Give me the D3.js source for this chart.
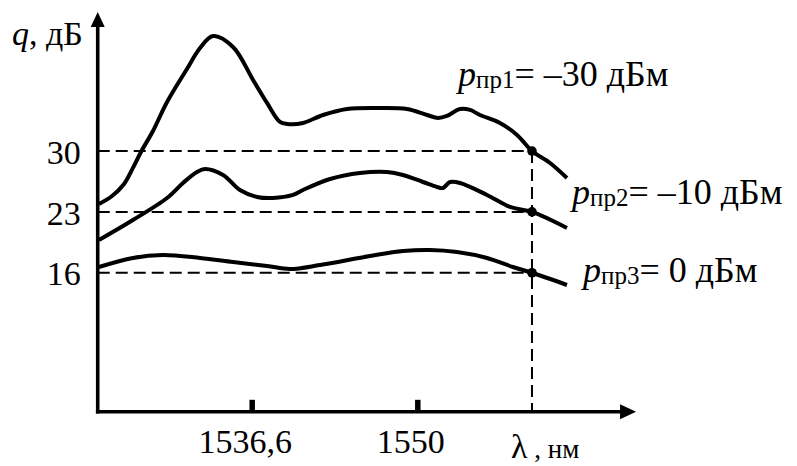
<!DOCTYPE html>
<html>
<head>
<meta charset="utf-8">
<script src="https://cdn.jsdelivr.net/npm/d3@7"></script>
<style>
  html, body { margin: 0; padding: 0; background: #fff; }
  svg { display: block; }
  text { font-family: "Liberation Serif", "Times New Roman", serif; fill: #000; }
</style>
</head>
<body>
<svg id="chart" width="797" height="466"></svg>
<script>
// ---- data (λ in nm, q in dB) ----
const xTickValues = [1536.6, 1550];
const xTickLabels = ["1536,6", "1550"];
const yTickValues = [16, 23, 30];
const yTickLabels = ["16", "23", "30"];

const lambda1 = [1524.24,1525.30,1526.27,1526.99,1527.64,1528.61,1529.75,1531.36,1532.42,1533.47,1535.09,1536.71,1537.84,1538.89,1539.46,1540.75,1542.37,1544.31,1546.98,1549.17,1550.79,1551.68,1552.40,1553.46,1554.27,1555.07,1556.69,1558.07,1559.28,1560.74,1562.11];
const q1      = [23.91,24.83,26.21,28.06,29.90,32.31,35.65,39.45,41.86,43.24,41.98,38.18,35.54,33.35,33.12,33.23,34.15,34.84,34.96,34.84,34.15,33.81,34.04,34.84,34.73,34.15,33.23,31.85,30.00,28.63,26.90];

const lambda2 = [1524.24,1526.99,1529.75,1531.04,1532.17,1532.82,1534.28,1535.65,1537.03,1538.32,1539.94,1540.75,1542.94,1545.36,1547.55,1548.84,1550.46,1551.59,1552.08,1552.65,1553.46,1555.64,1557.50,1559.28,1562.11];
const q2      = [19.77,22.07,24.60,26.33,27.59,27.94,27.25,25.52,24.72,24.60,24.95,25.52,26.79,27.48,27.59,27.25,26.44,25.87,25.75,26.44,26.33,24.95,23.57,23.00,21.15];

const lambda3 = [1524.24,1526.99,1529.42,1532.42,1535.09,1537.84,1539.70,1542.13,1546.17,1548.84,1551.03,1553.21,1555.64,1557.74,1559.28,1562.11];
const q3      = [16.66,17.70,18.04,17.70,17.24,16.78,16.43,16.89,17.93,18.50,18.62,18.39,17.70,16.66,16.00,14.59];

const markerLambda = 1559.28;
const markerQ = [30, 23, 16];

const seriesNames = ["1", "2", "3"];
const seriesValues = ["= –30 дБм", "= –10 дБм", "= 0 дБм"];

// ---- scales ----
const svg = d3.select("#chart");
const x = d3.scaleLinear().domain([1536.6, 1550]).range([251.7, 417.3]);
const xMin = 1524.14, xMax = 1567.7;
const y = d3.scaleLinear().domain([0, 46]).range([411.8, 12]);
const yMax = 46;

const F = 34;

// ---- reference dashed lines ----
const dash = "12,6";
svg.append("g").selectAll("line.h").data(markerQ).join("line")
  .attr("x1", x(xMin)).attr("x2", x(markerLambda))
  .attr("y1", d => y(d)).attr("y2", d => y(d))
  .attr("stroke", "#000").attr("stroke-width", 2).attr("stroke-dasharray", dash);
svg.append("line")
  .attr("x1", x(markerLambda)).attr("x2", x(markerLambda))
  .attr("y1", y(d3.max(markerQ))).attr("y2", y(0))
  .attr("stroke", "#000").attr("stroke-width", 2).attr("stroke-dasharray", dash);

// ---- curves ----
const line = d3.line().x(d => x(d[0])).y(d => y(d[1])).curve(d3.curveCatmullRom.alpha(0.5));
const curves = [d3.zip(lambda1, q1), d3.zip(lambda2, q2), d3.zip(lambda3, q3)];
svg.append("g").selectAll("path").data(curves).join("path")
  .attr("d", line).attr("fill", "none").attr("stroke", "#000")
  .attr("stroke-width", 4).attr("stroke-linejoin", "round");

// markers
svg.append("g").selectAll("circle").data(markerQ).join("circle")
  .attr("cx", x(markerLambda)).attr("cy", d => y(d)).attr("r", 4.8).attr("fill", "#000");

// ---- axes ----
const x0 = x(xMin), y0 = y(0);
const xEnd = x(xMax), yTop = y(yMax);
// y axis line + arrow
svg.append("line").attr("x1", x0).attr("x2", x0).attr("y1", y0 + 1.8).attr("y2", yTop + 14)
  .attr("stroke", "#000").attr("stroke-width", 3.6);
svg.append("path").attr("d", `M${x0},${yTop} L${x0 - 7},${yTop + 15} L${x0 + 7},${yTop + 15} Z`).attr("fill", "#000");
// x axis line + arrow
svg.append("line").attr("x1", x0 - 1.8).attr("x2", xEnd - 14).attr("y1", y0).attr("y2", y0)
  .attr("stroke", "#000").attr("stroke-width", 3.6);
svg.append("path").attr("d", `M${xEnd},${y0} L${xEnd - 16},${y0 - 7.5} L${xEnd - 16},${y0 + 7.5} Z`).attr("fill", "#000");

// x ticks and labels
const xAxis = d3.axisBottom(x).tickValues(xTickValues)
  .tickFormat((d, i) => xTickLabels[i]).tickSizeInner(-12).tickSizeOuter(0).tickPadding(17);
const gx = svg.append("g").attr("transform", `translate(0,${y0})`).call(xAxis);
gx.select(".domain").remove();
gx.selectAll(".tick line").attr("stroke", "#000").attr("stroke-width", 5.5);
gx.selectAll(".tick text").attr("font-family", "Liberation Serif").attr("font-size", F).attr("fill", "#000").attr("dx", -7);

// y tick labels
const yAxis = d3.axisLeft(y).tickValues(yTickValues)
  .tickFormat((d, i) => yTickLabels[i]).tickSize(0).tickPadding(17);
const gy = svg.append("g").attr("transform", `translate(${x0},0)`).call(yAxis);
gy.select(".domain").remove();
gy.selectAll(".tick text").attr("font-family", "Liberation Serif").attr("font-size", F).attr("fill", "#000").attr("dy", "0.36em");

// axis titles
const qt = svg.append("text").attr("x", 12).attr("y", 45).attr("font-size", F);
qt.append("tspan").attr("font-style", "italic").text("q");
qt.append("tspan").text(", дБ");

const lt = svg.append("text").attr("x", 511).attr("y", 458);
lt.append("tspan").attr("font-size", F).text("λ");
lt.append("tspan").attr("font-size", 27).text(" , нм");

// series labels
const labelPos = [[458, 86], [572, 204], [583, 282]];
seriesNames.forEach((n, i) => {
  const t = svg.append("text").attr("x", labelPos[i][0]).attr("y", labelPos[i][1]).attr("font-size", 36);
  t.append("tspan").attr("font-style", "italic").text("p");
  t.append("tspan").attr("font-size", 25).attr("dy", 2).text("пр" + n);
  t.append("tspan").attr("dy", -2).text(seriesValues[i]);
});
</script>
</body>
</html>
